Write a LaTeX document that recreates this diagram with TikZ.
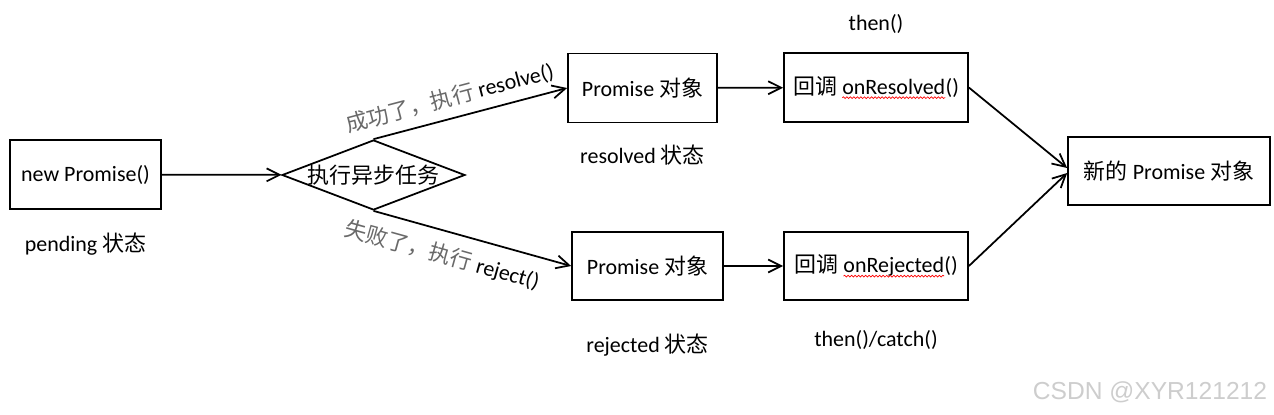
\documentclass[tikz,border=0pt]{standalone}
\usepackage{fontspec}
\setmainfont{Carlito}
\newfontfamily\zhfont{Noto Sans CJK SC}
\newfontfamily\wmfont{Liberation Sans}
\usepackage{xcolor}
\usetikzlibrary{
  arrows.meta,
  positioning,
  shapes.geometric,
  decorations.pathmorphing
}
\definecolor{notegray}{RGB}{105,105,105}
\definecolor{markgray}{RGB}{205,205,205}
\newcommand{\zh}[1]{{\zhfont #1}}
\newcommand{\spell}[1]{\tikz[baseline=(sw.base)]{%
  \node[draw=none, inner sep=0pt, outer sep=0pt, minimum width=0pt,
        minimum height=0pt] (sw) {#1};
  \draw[red, line width=0.4pt, decorate,
        decoration={snake, amplitude=0.5pt, segment length=2pt}]
    ([yshift=-2pt]sw.base west) -- ([yshift=-2pt]sw.base east);}}

\begin{document}
\begin{tikzpicture}[
  x=0.02cm, y=-0.02cm,
  box/.style={draw, line width=1pt, minimum height=1.38cm, inner sep=2pt,
              font=\fontsize{12.5}{14}\selectfont},
  decision/.style={diamond, draw, line width=1pt, minimum width=3.66cm,
                   minimum height=1.4cm, inner sep=0pt},
  tag/.style={inner sep=0pt, font=\fontsize{12.5}{14}\selectfont},
  arr/.style={-{Straight Barb[length=2.6mm, width=2.6mm]}, line width=1pt}
]
\useasboundingbox (0,0) rectangle (1274,414);

% ── Start ──
\node[box, minimum width=3.02cm] (newp) at (85.5,174.5) {new Promise()};
\node[tag, below=0.46cm of newp] (pend) {pending \zh{状态}};

% ── Decision ──
\node[decision, label={center:{\fontsize{12.5}{14}\selectfont\zh{执行异步任务}}}]
  (task) at (373.5,175) {};
\draw[arr] (newp) -- (task);

% ── Resolved branch ──
\node[box, minimum width=2.98cm] (okres) at (642.5,88) {Promise \zh{对象}};
\node[tag, below=0.43cm of okres] (resst) {resolved \zh{状态}};
\draw[arr] (task.north) -- node[tag, sloped, above=5pt, pos=0.42]
  {\textcolor{notegray}{\zh{成功了，执行}} resolve()} (okres.west);

% ── Rejected branch ──
\node[box, minimum width=3.02cm, minimum height=1.36cm] (okrej) at (647.5,266)
  {Promise \zh{对象}};
\node[tag, below=0.65cm of okrej] (rejst) {rejected \zh{状态}};
\draw[arr] (task.south) -- node[tag, sloped, below=7pt, pos=0.38]
  {\textcolor{notegray}{\zh{失败了，执行}} reject()} (okrej.west);

% ── Callbacks ──
\node[box, minimum width=3.68cm] (cbres) at (876,87.5)
  {\zh{回调} \spell{onResolved}()};
\node[tag, above=0.37cm of cbres] (thn) {then()};
\draw[arr] (okres) -- (cbres);

\node[box, minimum width=3.68cm, minimum height=1.36cm] (cbrej) at (876,266)
  {\zh{回调} \spell{onRejected}()};
\node[tag, below=0.59cm of cbrej] (thcat) {then()/catch()};
\draw[arr] (okrej) -- (cbrej);

% ── Result ──
\node[box, minimum width=4.04cm, minimum height=1.36cm] (newobj) at (1169,171)
  {\zh{新的} Promise \zh{对象}};
\draw[arr] (cbres.east) -- ([yshift=0.06cm]newobj.west);
\draw[arr] (cbrej.east) -- ([yshift=-0.04cm]newobj.west);

% ── Watermark ──
\node[inner sep=0pt, text=markgray, font=\wmfont\fontsize{14}{16}\selectfont]
  (mark) at (1150,392) {CSDN @XYR121212};

\end{tikzpicture}
\end{document}
